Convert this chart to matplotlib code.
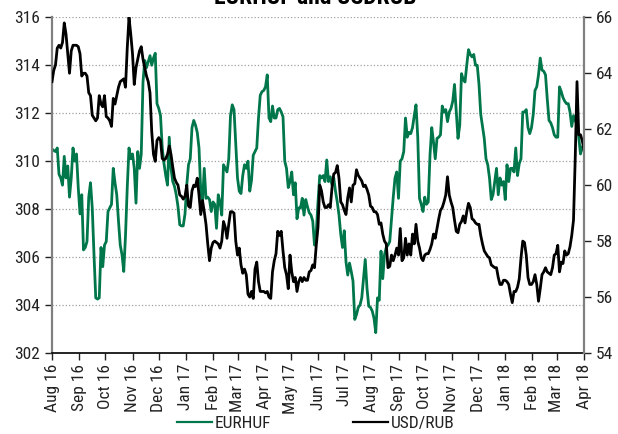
import numpy as np
import pandas as pd
import matplotlib
matplotlib.use('Agg')
import matplotlib.pyplot as plt
import matplotlib.dates as mdates
from matplotlib import font_manager as fm

###############################################################################
# values, one every 2 days from 1 Aug 2016

eurhuf = [
    310.5, 310.45, 310.4, 310.55, 309.45, 309.3, 309.0, 310.2, 309.3, 309.8,
    308.5, 309.3, 310.55, 310.0, 310.3, 308.9, 307.8, 308.6, 306.3, 306.4,
    306.65, 308.5, 309.1, 308.05, 306.1, 304.3, 304.25, 304.3, 306.4, 305.6,
    306.5, 306.65, 307.9, 308.05, 308.2, 309.7, 309.1, 308.6, 307.5, 306.5,
    306.1, 305.4, 306.9, 308.9, 310.55, 310.1, 310.3, 309.7, 308.25, 310.4,
    309.7, 310.3, 313.3, 314.2, 313.9, 314.15, 314.4, 314.0, 314.3, 314.5,
    312.4, 312.2, 311.9, 310.55, 309.9, 309.4, 309.0, 311.0, 309.7, 309.15,
    308.95, 308.6, 308.1, 307.35, 307.3, 307.3, 307.8, 309.0, 309.85, 310.1,
    311.4, 311.7, 311.5, 311.2, 310.55, 308.75, 308.3, 309.7, 308.45, 308.5,
    308.4, 307.9, 308.3, 308.2, 307.2, 308.6, 308.3, 307.75, 309.85, 309.7,
    309.55, 310.1, 311.9, 312.35, 312.15, 310.7, 309.3, 308.75, 308.65, 309.4,
    309.85, 309.7, 310.0, 308.75, 309.2, 310.25, 310.4, 310.55, 311.8, 312.75,
    312.9, 312.95, 313.1, 313.6, 311.8, 311.65, 312.3, 311.8, 311.8, 312.15,
    312.2, 312.05, 311.85, 310.0, 309.7, 308.9, 309.15, 309.55, 308.6, 309.1,
    307.6, 308.05, 308.05, 308.45, 307.75, 308.4, 308.1, 307.85, 307.75, 307.5,
    306.5, 307.0, 308.3, 309.4, 309.3, 309.4, 309.15, 310.05, 309.15, 309.35,
    309.0, 309.3, 308.75, 308.3, 307.75, 306.95, 306.4, 307.1, 305.8, 305.25,
    305.75, 305.4, 305.0, 303.4, 303.6, 303.9, 304.0, 304.3, 305.1, 305.9,
    304.7, 303.95, 303.9, 303.75, 303.45, 302.85, 304.3, 304.2, 306.25, 305.1,
    306.1, 306.4, 306.5, 306.65, 307.6, 308.5, 309.3, 309.55, 308.45, 310.0,
    310.1, 310.4, 311.8, 311.0, 311.2, 311.15, 311.4, 311.9, 312.35, 311.0,
    308.45, 308.2, 307.9, 308.5, 308.2, 308.3, 310.25, 311.4, 310.8, 310.1,
    310.95, 311.0, 311.1, 312.3, 312.05, 312.15, 311.65, 312.05, 312.2, 312.5,
    313.2, 312.05, 310.95, 311.5, 313.65, 313.4, 313.3, 314.0, 314.65, 314.45,
    314.35, 314.45, 314.0, 314.0, 313.2, 311.95, 311.45, 310.95, 310.1, 309.85,
    309.3, 308.4, 308.6, 309.15, 309.7, 308.6, 309.3, 309.0, 309.15, 308.4,
    309.85, 309.15, 309.7, 309.7, 309.55, 310.55, 309.4, 309.9, 310.1, 312.05,
    312.05, 312.15, 311.4, 311.15, 311.4, 311.95, 312.95, 313.1, 313.6, 314.3,
    313.8, 313.75, 313.6, 312.6, 311.7, 311.6, 311.4, 311.1, 311.0, 311.0,
    313.1, 312.9, 312.65, 312.5, 312.4, 312.4, 312.05, 311.45, 311.9, 311.7,
    311.5, 311.0, 310.3, 310.6, 310.6,
]

usdrub = [
    63.7, 64.1, 64.3, 64.9, 65.0, 64.9, 65.1, 65.8, 65.4, 64.7,
    64.0, 64.8, 65.0, 65.0, 65.0, 64.95, 64.7, 63.9, 64.0, 64.0,
    63.9, 63.3, 63.2, 62.5, 62.4, 62.3, 62.4, 63.2, 62.9, 62.8,
    63.2, 62.45, 62.4, 62.3, 62.1, 63.1, 62.9, 63.2, 63.5, 63.7,
    63.75, 63.8, 63.5, 64.9, 66.0, 65.4, 64.7, 63.6, 64.2, 64.5,
    64.8, 64.95, 64.5, 64.2, 63.9, 63.7, 63.3, 61.9, 61.1, 60.85,
    61.6, 61.7, 61.6, 60.95, 60.9, 60.95, 61.1, 61.4, 61.1, 60.65,
    60.25, 60.1, 60.0, 59.65, 59.6, 59.5, 59.6, 60.0, 59.25, 59.2,
    59.8, 60.0, 59.95, 60.25, 59.65, 58.95, 59.45, 59.05, 58.6, 57.9,
    57.3, 57.75, 57.95, 58.0, 57.95, 57.9, 57.75, 58.0, 58.7, 58.5,
    58.1, 58.6, 59.05, 59.05, 59.0, 58.0, 57.5, 57.75, 57.15, 56.85,
    57.0, 56.8, 56.1, 56.0, 56.2, 55.95, 57.0, 57.25, 56.55, 56.2,
    56.2, 56.2, 56.15, 56.2, 56.0, 55.95, 56.9, 57.3, 57.55, 58.35,
    58.2, 58.35, 57.65, 57.05, 56.8, 56.3, 57.5, 56.9, 56.55, 56.7,
    56.2, 56.55, 56.7, 56.55, 56.7, 56.6, 56.6, 56.9, 56.95, 57.15,
    57.05, 57.85, 58.5, 60.0, 59.8, 59.4, 59.2, 59.2, 59.3, 59.2,
    59.9, 60.4, 60.45, 60.7, 60.25, 59.4, 59.3, 59.1, 58.95, 59.55,
    59.9, 59.4, 60.0, 60.05, 60.55, 60.35, 60.25, 60.15, 59.95, 60.0,
    59.85, 59.65, 59.25, 59.2, 59.05, 59.05, 58.95, 58.6, 58.65, 58.25,
    58.0, 57.9, 57.05, 57.1, 57.5, 57.3, 57.5, 57.75, 57.5, 58.45,
    57.3, 57.4, 58.1, 57.5, 57.9, 57.5, 58.25, 57.9, 58.6, 58.0,
    57.75, 57.4, 57.3, 57.5, 57.55, 57.55, 57.7, 57.9, 58.25, 58.1,
    58.45, 58.8, 59.1, 59.2, 59.4, 59.65, 60.3, 59.65, 59.4, 59.2,
    58.75, 58.35, 58.3, 58.6, 58.7, 58.9, 58.65, 59.05, 59.35, 59.2,
    58.8, 58.75, 58.65, 58.6, 58.6, 58.2, 57.9, 57.65, 57.55, 57.45,
    57.4, 57.15, 57.1, 57.05, 57.05, 56.7, 56.45, 56.45, 56.6, 56.6,
    56.55, 56.45, 56.1, 55.8, 56.2, 56.2, 56.35, 56.65, 57.4, 58.0,
    57.95, 57.5, 56.7, 56.45, 56.45, 56.55, 56.8, 56.45, 55.85, 56.3,
    56.8, 56.9, 57.05, 56.9, 56.85, 56.8, 57.05, 57.5, 57.55, 57.85,
    56.9, 57.25, 57.2, 57.65, 57.5, 57.55, 57.8, 58.2, 58.75, 61.0,
    63.7, 61.8, 61.8, 61.6, 61.25,
]

dates = pd.date_range('2016-08-01', periods=len(usdrub), freq='2D')

green = '#00774B'
txt = '#222222'

###############################################################################
# the chart uses a narrow sans; take one if there is one installed

def is_narrow(f):
    st = f.stretch
    if isinstance(st, str):
        return st in ('condensed', 'semi-condensed', 'extra-condensed')
    return st < 500

narrow = {f.name for f in fm.fontManager.ttflist
          if is_narrow(f) or 'Narrow' in f.name or 'Condensed' in f.name}
prefs = ['Liberation Sans Narrow', 'Arial Narrow', 'Roboto Condensed',
         'Noto Sans Condensed', 'Noto Sans', 'Open Sans Condensed', 'Open Sans',
         'DejaVu Sans Condensed', 'DejaVu Sans']
fam = None
for p in prefs:
    if p in narrow:
        fam = p
        break

if fam is not None:
    plt.rcParams['font.family'] = [fam, 'Liberation Sans', 'DejaVu Sans']
    plt.rcParams['font.stretch'] = 'condensed'
    fs, tfs = 12.5, 17
else:
    plt.rcParams['font.family'] = ['Liberation Sans', 'DejaVu Sans']
    fs, tfs = 11, 15

###############################################################################

fig = plt.figure(figsize=(6.18, 4.34), dpi=100)
ax = fig.add_axes([52/618, 1-353/434, 532/618, 335.7/434])
ax2 = ax.twinx()

ax.plot(dates, eurhuf, color=green, lw=2.0, label='EURHUF')
ax2.plot(dates, usdrub, color='black', lw=2.0, label='USD/RUB')

ax.set_xlim(pd.Timestamp('2016-08-01'), pd.Timestamp('2018-04-01'))
ax.set_ylim(302, 316)
ax.set_yticks(np.arange(302, 317, 2))
ax2.set_ylim(54, 66)
ax2.set_yticks(np.arange(54, 67, 2))

ax.xaxis.set_major_locator(mdates.MonthLocator())
ax.xaxis.set_major_formatter(mdates.DateFormatter('%b %y'))
for lab in ax.get_xticklabels():
    lab.set_rotation(90)

ax.yaxis.grid(True, linestyle=':', color='#a0a0a0', lw=0.9)
ax.set_axisbelow(True)

for a in (ax, ax2):
    a.spines['top'].set_visible(False)
    a.tick_params(labelsize=fs, colors=txt, length=5, width=1, direction='out')
ax.tick_params(axis='x', pad=3)
ax.spines['left'].set_color('#808080')
ax.spines['left'].set_linewidth(1.6)
ax.spines['right'].set_visible(False)
ax.spines['bottom'].set_color('black')
ax.spines['bottom'].set_linewidth(1.2)
ax2.spines['left'].set_visible(False)
ax2.spines['bottom'].set_visible(False)
ax2.spines['right'].set_color('#808080')
ax2.spines['right'].set_linewidth(1.6)

fig.text(315/618, 1-4.5/434, 'EURHUF and USDRUB', ha='center', va='baseline',
         fontsize=tfs, fontweight='bold', color='black')

# two legend entries, each pinned where its line starts in the reference
h1, l1 = ax.get_legend_handles_labels()
h2, l2 = ax2.get_legend_handles_labels()
px = fs*100/72.
for hh, ll, x0 in ((h1, l1, 177), (h2, l2, 353)):
    leg = fig.legend(hh, ll, loc='center left', bbox_to_anchor=(x0/618, 1-423/434),
                     frameon=False, fontsize=fs, handlelength=35/px,
                     handletextpad=3/px, borderpad=0, borderaxespad=0,
                     labelcolor=txt)
    for ln in leg.get_lines():
        ln.set_linewidth(1.6)

fig.savefig('out.png', dpi=100)
